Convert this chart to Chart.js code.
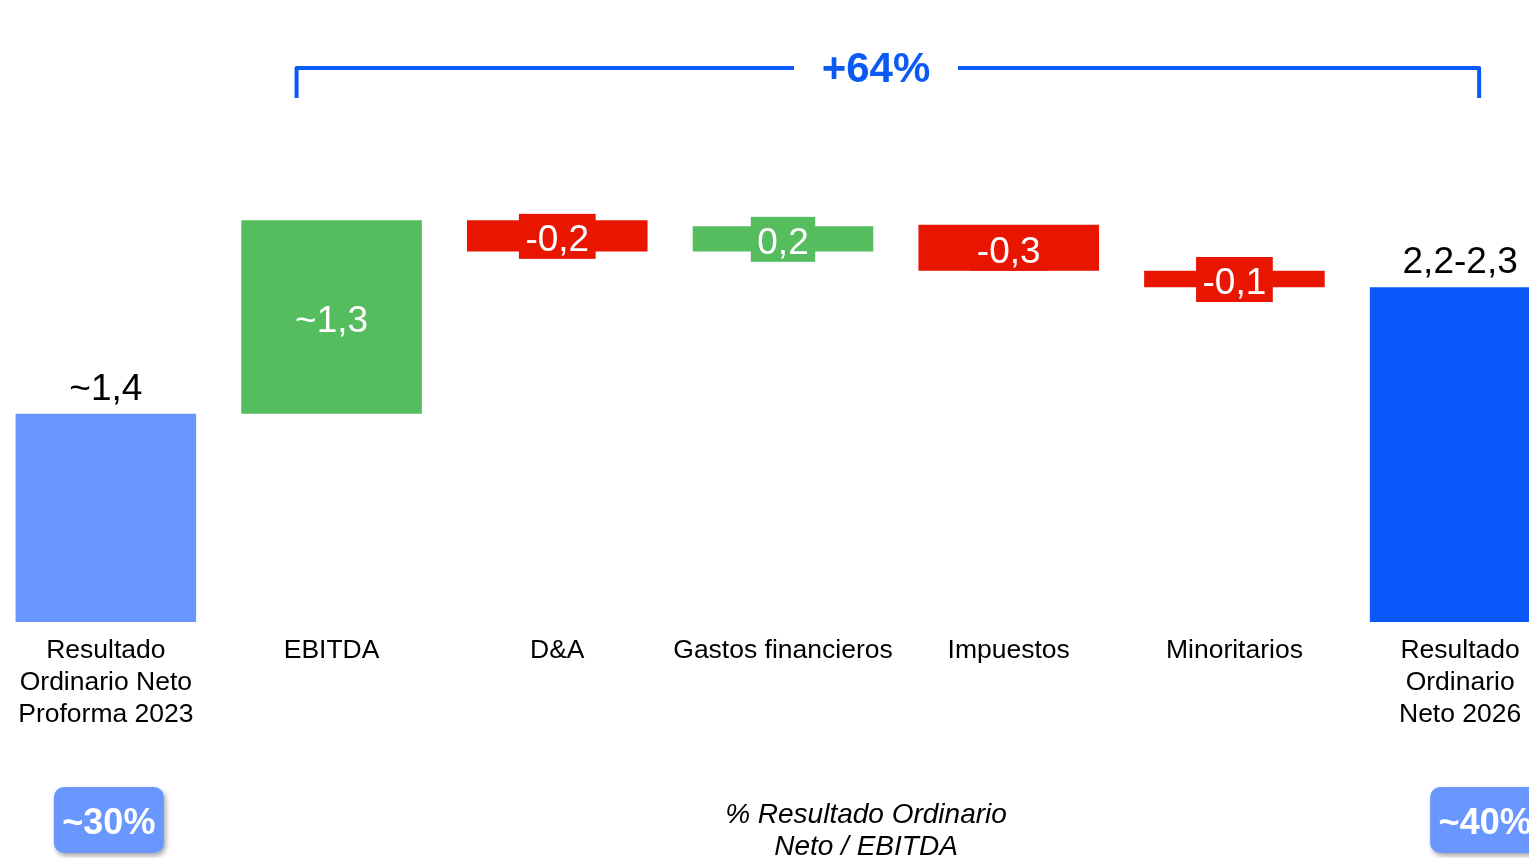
<!DOCTYPE html>
<html>
<head>
<meta charset="utf-8">
<script src="https://cdn.jsdelivr.net/npm/chart.js@4.4.1/dist/chart.umd.min.js"></script>
<style>
  html, body { margin: 0; padding: 0; background: #fff; overflow: hidden; width: 1529px; height: 858px; }
  #wrap { position: absolute; left: -7px; top: 0; width: 1580px; height: 858px; }
</style>
</head>
<body>
<div id="wrap"><canvas id="chart"></canvas></div>
<script>
// categories and waterfall values (floating bars: start / end)
const categories = [
    ['Resultado', 'Ordinario Neto', 'Proforma 2023'],
    'EBITDA',
    'D&A',
    'Gastos financieros',
    'Impuestos',
    'Minoritarios',
    ['Resultado', 'Ordinario', 'Neto 2026']
];
const barStart = [0, 1.4, 2.49, 2.49, 2.36, 2.25, 0];
const barEnd = [1.4, 2.7, 2.7, 2.66, 2.67, 2.36, 2.25];
const valueLabels = ['~1,4', '~1,3', '-0,2', '0,2', '-0,3', '-0,1', '2,2-2,3'];
const barColors = ['#6997FF', '#55BD5D', '#E81600', '#55BD5D', '#E81600', '#E81600', '#0A57FA'];
const ratioLabels = ['~30%', '~40%'];
const ratioCaption = ['% Resultado Ordinario', 'Neto / EBITDA'];
const growthLabel = '+64%';

const FONT = "'Liberation Sans', Arial, sans-serif";
const BLUE = '#0A5AF5';
const SHIFT = 7; // canvas sits 7px left of the page

// labels, bracket and badges drawn on top of the bars
const annotations = {
    id: 'annotations',
    afterDatasetsDraw(chart) {
        const ctx = chart.ctx;
        const meta = chart.getDatasetMeta(0);
        ctx.save();
        ctx.textAlign = 'center';
        ctx.textBaseline = 'middle';
        ctx.font = '37px ' + FONT;

        meta.data.forEach((bar, i) => {
            const top = Math.min(bar.y, bar.base);
            const bottom = Math.max(bar.y, bar.base);
            const mid = (top + bottom) / 2;
            if (barStart[i] === 0) {
                // totals: black label above the bar
                ctx.fillStyle = '#000';
                ctx.fillText(valueLabels[i], bar.x, top - 24);
            } else {
                // deltas: white label on a box in the bar colour
                const w = ctx.measureText(valueLabels[i]).width + 13;
                ctx.fillStyle = barColors[i];
                ctx.fillRect(bar.x - w / 2, mid - 22, w, 45);
                ctx.fillStyle = '#fff';
                ctx.fillText(valueLabels[i], bar.x, mid + 5);
            }
        });

        // growth bracket
        const first = meta.data[1].x - 35;
        const last = meta.data[6].x + 19;
        const lineY = 68;
        const textX = 876 + SHIFT;
        ctx.strokeStyle = BLUE;
        ctx.lineWidth = 4;
        ctx.lineJoin = 'round';
        ctx.beginPath();
        ctx.moveTo(first, 98);
        ctx.lineTo(first, lineY);
        ctx.lineTo(textX - 82, lineY);
        ctx.moveTo(textX + 82, lineY);
        ctx.lineTo(last, lineY);
        ctx.lineTo(last, 98);
        ctx.stroke();
        ctx.fillStyle = BLUE;
        ctx.font = 'bold 42px ' + FONT;
        ctx.fillText(growthLabel, textX, lineY + 2);

        // ratio badges
        const badgeX = [meta.data[0].x + 3, meta.data[6].x + 25];
        ratioLabels.forEach((txt, i) => {
            const x = badgeX[i] - 55;
            ctx.save();
            ctx.shadowColor = 'rgba(0,0,0,0.35)';
            ctx.shadowBlur = 5;
            ctx.shadowOffsetX = 2;
            ctx.shadowOffsetY = 3;
            ctx.fillStyle = '#6997FF';
            ctx.beginPath();
            ctx.roundRect(x, 787, 110, 66, 10);
            ctx.fill();
            ctx.restore();
            ctx.fillStyle = '#fff';
            ctx.font = 'bold 36px ' + FONT;
            ctx.fillText(txt, badgeX[i], 824);
        });

        // caption
        ctx.fillStyle = '#000';
        ctx.font = 'italic 28px ' + FONT;
        ratioCaption.forEach((line, i) => ctx.fillText(line, 866 + SHIFT, 815 + i * 32));
        ctx.restore();
    }
};

new Chart(document.getElementById('chart'), {
    type: 'bar',
    data: {
        labels: categories,
        datasets: [{
            data: barStart.map((s, i) => [s, barEnd[i]]),
            backgroundColor: barColors,
            borderWidth: 0,
            barPercentage: 0.8,
            categoryPercentage: 1
        }]
    },
    options: {
        responsive: true,
        maintainAspectRatio: false,
        animation: false,
        layout: { padding: 0 },
        plugins: {
            legend: { display: false },
            tooltip: { enabled: false }
        },
        scales: {
            x: {
                grid: { display: false, drawTicks: false },
                border: { display: false },
                ticks: {
                    autoSkip: false,
                    maxRotation: 0,
                    minRotation: 0,
                    padding: 13,
                    color: '#000',
                    font: { family: FONT, size: 26.5, lineHeight: 1.208 }
                },
                afterFit: (scale) => { scale.height = 236; }
            },
            y: {
                display: false,
                min: 0,
                max: 4.18
            }
        }
    },
    plugins: [annotations]
});
</script>
</body>
</html>
